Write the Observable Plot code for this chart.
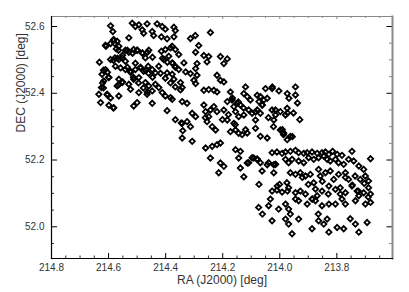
<!DOCTYPE html>
<html><head><meta charset="utf-8">
<script src="https://cdn.jsdelivr.net/npm/d3@7"></script>
<script src="https://cdn.jsdelivr.net/npm/@observablehq/plot@0.6"></script>
<style>body{margin:0;background:#fff}#c{width:409px;height:292px}</style>
</head><body><div id="c"></div>
<script>
const ra = [
214.593,214.585,214.517,214.506,214.494,214.465,214.430,214.412,214.401,214.371,214.366,214.482,214.477,214.447,214.442,214.415,214.395,214.371,
214.582,214.570,214.578,214.564,214.573,214.609,214.529,214.541,214.529,214.512,214.500,214.482,214.459,214.471,214.415,214.401,214.383,214.377,214.366,214.354,
214.632,214.593,214.578,214.564,214.552,214.541,214.576,214.558,214.541,214.523,214.506,214.488,214.477,214.461,214.447,214.436,214.424,214.406,214.389,214.377,214.366,214.354,214.336,
214.623,214.611,214.599,214.617,214.564,214.552,214.570,214.529,214.512,214.494,214.471,214.459,214.436,214.424,214.395,214.377,214.371,214.348,214.342,
214.625,214.634,214.605,214.564,214.523,214.494,214.465,214.447,214.412,214.401,214.383,214.628,214.599,214.582,214.512,214.500,214.447,214.377,214.395,214.366,214.345,214.340,
214.243,214.296,214.313,
214.284,214.295,214.266,214.249,214.255,214.208,214.184,214.196,214.290,214.295,214.330,214.313,214.290,214.220,214.208,214.196,214.301,214.295,
214.266,214.249,214.231,214.220,214.173,214.120,214.126,214.114,214.079,214.068,214.056,214.044,214.073,214.062,214.050,214.027,214.003,213.974,213.968,
214.184,214.167,214.149,214.138,214.161,214.231,214.220,214.196,214.266,214.260,214.249,214.342,214.325,214.307,214.295,
214.155,214.144,214.126,214.109,214.097,214.079,214.068,214.085,214.027,214.015,213.998,213.980,213.974,
214.342,214.325,214.313,214.255,214.237,214.225,214.184,214.161,214.155,214.144,214.173,214.132,214.114,
214.085,214.068,214.044,214.021,213.998,213.986,213.974,213.963,214.342,214.307,214.260,214.237,214.220,214.208,
214.155,214.138,214.144,214.091,214.079,214.243,214.208,214.196,214.214,214.138,214.126,214.114,214.062,214.044,214.021,214.073,214.009,
214.026,213.945,213.945,213.938,213.973,213.952,213.930,213.991,213.987,213.956,214.022,
214.027,214.010,213.992,213.980,213.963,213.945,213.934,213.916,213.904,213.887,213.869,213.852,213.840,213.828,213.815,213.799,213.782,213.747,
214.097,214.080,214.109,214.068,214.039,214.015,214.021,
213.969,213.957,213.934,213.916,213.899,213.881,213.864,213.846,213.834,213.823,213.805,213.794,213.776,213.759,213.741,213.723,213.706,213.682,
213.963,213.945,213.928,213.910,213.893,213.881,213.864,213.858,213.840,213.823,213.811,213.794,213.770,213.759,213.736,213.718,213.700,213.689,
214.027,214.010,213.992,213.975,213.969,213.945,213.928,213.910,213.887,213.869,213.852,213.828,213.805,213.788,213.770,213.747,213.729,213.723,213.706,213.689,213.682,
214.074,214.039,214.004,213.980,213.969,213.934,213.904,213.875,213.852,213.828,213.782,213.770,213.735,213.700,213.682,
214.027,213.980,213.969,213.934,213.887,213.864,213.834,213.846,213.828,213.799,213.776,213.735,213.694,213.723,213.957,
214.611,214.593,214.583,214.565,214.618,214.604,214.600,214.621,214.618,214.604,214.593,214.583,214.565,214.551,
214.583,214.569,214.551,214.534,214.516,214.499,214.481,214.464,214.446,214.506,214.488,214.471,214.460,214.446,
214.534,214.523,214.513,214.495,214.478,214.464,214.411,214.394,214.376,214.366,214.418,214.401,214.383,214.366,214.348,
214.166,214.145,214.127,214.103,214.085,214.061,214.040,214.015,214.180,214.201,214.156,214.120,214.243,214.261,
213.921,213.900,213.875,213.851,213.830,213.886,213.770,213.746,213.725,213.704,213.690,213.788,213.805,
214.001,213.973,213.945,214.033,214.061,213.963,213.865,213.753,214.015,213.980
];
const dec = [
52.602,52.585,52.610,52.600,52.605,52.608,52.608,52.600,52.592,52.598,52.588,52.590,52.580,52.585,52.573,52.569,52.563,52.569,
52.561,52.556,52.549,52.541,52.533,52.541,52.566,52.529,52.523,52.531,52.529,52.521,52.529,52.506,52.526,52.531,52.536,52.541,52.531,52.516,
52.493,52.501,52.506,52.501,52.506,52.496,52.481,52.476,52.471,52.466,52.471,52.476,52.466,52.481,52.471,52.461,52.481,52.501,52.511,52.491,52.481,52.471,52.491,
52.457,52.471,52.447,52.437,52.442,52.432,52.422,52.427,52.442,52.447,52.432,52.422,52.427,52.417,52.461,52.457,52.442,52.432,52.417,
52.417,52.397,52.397,52.392,52.412,52.402,52.397,52.407,52.402,52.392,52.387,52.372,52.364,52.357,52.362,52.372,52.370,52.382,52.348,52.321,52.311,52.288,
52.582,52.573,52.564,
52.543,52.523,52.513,52.510,52.494,52.510,52.503,52.489,52.489,52.474,52.464,52.459,52.454,52.454,52.439,52.434,52.439,52.429,
52.409,52.411,52.409,52.404,52.404,52.419,52.399,52.390,52.394,52.390,52.380,52.385,52.375,52.365,52.414,52.414,52.407,52.399,52.385,
52.375,52.380,52.370,52.365,52.360,52.360,52.345,52.350,52.365,52.345,52.330,52.375,52.370,52.340,52.330,
52.345,52.330,52.335,52.350,52.340,52.350,52.340,52.320,52.350,52.335,52.345,52.335,52.355,
52.310,52.315,52.300,52.315,52.300,52.290,52.320,52.310,52.290,52.280,52.285,52.276,52.281,
52.295,52.271,52.266,52.320,52.290,52.281,52.261,52.271,52.266,52.256,52.236,52.241,52.246,52.251,
52.231,52.226,52.206,52.206,52.203,52.206,52.191,52.181,52.162,52.176,52.150,52.191,52.167,52.186,52.186,52.127,52.122,
52.419,52.419,52.395,52.371,52.341,52.341,52.321,52.291,52.276,52.270,52.300,
52.222,52.224,52.220,52.224,52.226,52.229,52.222,52.220,52.222,52.224,52.220,52.222,52.224,52.217,52.226,52.217,52.214,52.226,
52.207,52.202,52.192,52.192,52.192,52.187,52.162,
52.192,52.202,52.197,52.192,52.207,52.202,52.207,52.212,52.202,52.197,52.202,52.192,52.187,52.202,52.197,52.182,52.172,52.204,
52.162,52.157,52.162,52.152,52.157,52.132,52.172,52.152,52.162,52.167,52.142,52.157,52.162,52.142,52.152,52.142,52.152,52.137,
52.107,52.110,52.104,52.132,52.117,52.102,52.107,52.098,52.083,52.093,52.107,52.122,52.112,52.117,52.102,52.122,52.107,52.093,52.102,52.117,52.098,
52.058,52.063,52.053,52.068,52.053,52.078,52.068,52.078,52.063,52.068,52.083,52.068,52.078,52.068,52.073,
52.018,52.023,52.008,52.023,51.994,52.018,52.023,52.008,51.984,51.998,51.994,52.008,52.013,51.984,51.979,
52.544,52.549,52.558,52.529,52.469,52.463,52.448,52.431,52.416,52.395,52.386,52.356,52.425,52.434,
52.499,52.505,52.514,52.529,52.520,52.529,52.520,52.523,52.508,52.490,52.478,52.469,52.460,52.448,
52.478,52.463,52.448,52.431,52.416,52.404,52.505,52.493,52.490,52.478,52.460,52.445,52.431,52.419,52.410,
52.386,52.374,52.356,52.380,52.344,52.365,52.327,52.350,52.336,52.321,52.306,52.291,52.350,52.327,
52.148,52.127,52.113,52.136,52.098,52.083,52.148,52.125,52.107,52.130,52.089,52.098,52.068,
52.127,52.107,52.083,52.083,52.038,52.038,52.038,52.024,52.187,52.202
];
const xTicks = [214.8, 214.6, 214.4, 214.2, 214.0, 213.8];
const xMinor = [214.75, 214.7, 214.65, 214.55, 214.5, 214.45, 214.35, 214.3, 214.25, 214.15, 214.1, 214.05, 213.95, 213.9, 213.85, 213.75, 213.7, 213.65];
const yTicks = [52.0, 52.2, 52.4, 52.6];
const yMinor = [51.95, 52.05, 52.1, 52.15, 52.25, 52.3, 52.35, 52.45, 52.5, 52.55];
const xTitle = "RA (J2000) [deg]";
const yTitle = "DEC (J2000) [deg]";

const pts = ra.map((r, i) => ({ra: r, dec: dec[i]}));
const fmt = d3.format(".1f");
const FW = 409 - 51 - 17, FH = 292 - 16 - 34;

const chart = Plot.plot({
  width: 409, height: 292,
  marginLeft: 51, marginRight: 17, marginTop: 16, marginBottom: 34,
  style: {fontFamily: "'Liberation Sans', Arial, sans-serif", fontSize: "10px", color: "#333", background: "#fff"},
  x: {domain: [214.8, 213.605], axis: null},
  y: {domain: [51.905, 52.63], axis: null},
  marks: [
    Plot.dot(pts, {x: "ra", y: "dec", symbol: "diamond2", r: 2.4, stroke: "#000", strokeWidth: 1.8, fill: "none"}),
    Plot.ruleX(xTicks, {x: d => d, insetTop: FH - 5, stroke: "#000"}),
    Plot.ruleX(xMinor, {x: d => d, insetTop: FH - 2.5, stroke: "#333"}),
    Plot.axisX(xTicks, {anchor: "bottom", tickSize: 0, tickPadding: 5, tickFormat: fmt, label: null, fontSize: 10, fill: "#333"}),
    Plot.ruleX(xTicks, {x: d => d, insetBottom: FH - 3, stroke: "#888"}),
    Plot.ruleX(xMinor, {x: d => d, insetBottom: FH - 2, stroke: "#888"}),
    Plot.ruleY(yTicks, {y: d => d, insetRight: FW - 6, stroke: "#000"}),
    Plot.ruleY(yMinor, {y: d => d, insetRight: FW - 3, stroke: "#333"}),
    Plot.axisY(yTicks, {anchor: "left", tickSize: 0, tickPadding: 7, tickFormat: fmt, label: null, fontSize: 10, fill: "#333"}),
    Plot.ruleY(yTicks, {y: d => d, insetLeft: FW - 5.5, stroke: "#000"}),
    Plot.ruleY(yMinor, {y: d => d, insetLeft: FW - 3, stroke: "#888"}),
    Plot.frame({anchor: "top", stroke: "#888"}),
    Plot.frame({anchor: "right", stroke: "#888", strokeWidth: 2}),
    Plot.frame({anchor: "left", stroke: "#000", strokeWidth: 1.2}),
    Plot.frame({anchor: "bottom", stroke: "#000", strokeWidth: 1.2}),
    Plot.text([xTitle], {frameAnchor: "bottom", dy: 25, fontSize: 12, fill: "#333"}),
    Plot.text([yTitle], {frameAnchor: "left", dx: -30, dy: -5, rotate: -90, fontSize: 12, fill: "#333"})
  ]
});
document.getElementById("c").appendChild(chart);
</script>
</body></html>
